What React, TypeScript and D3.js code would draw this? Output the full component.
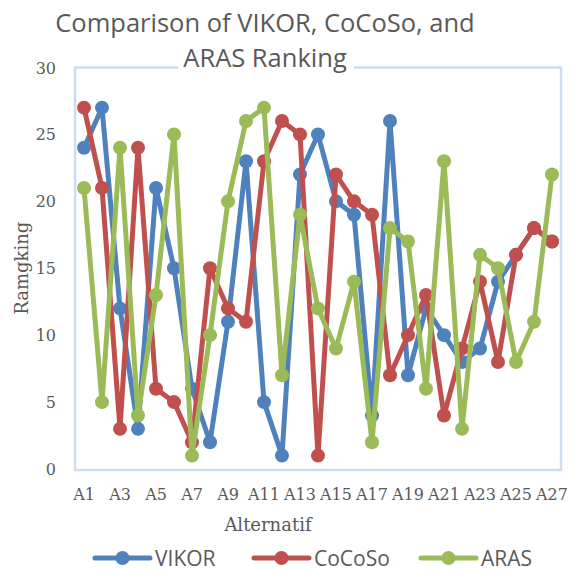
import * as d3 from 'd3'
import React from 'react'

const categories = Array.from({ length: 27 }, (_, i) => `A${i + 1}`)
const vikor = [24, 27, 12, 3, 21, 15, 6, 2, 11, 23, 5, 1, 22, 25, 20, 19, 4, 26, 7, 12, 10, 8, 9, 14, 16, 18, 17]
const cocoso = [27, 21, 3, 24, 6, 5, 2, 15, 12, 11, 23, 26, 25, 1, 22, 20, 19, 7, 10, 13, 4, 9, 14, 8, 16, 18, 17]
const aras = [21, 5, 24, 4, 13, 25, 1, 10, 20, 26, 27, 7, 19, 12, 9, 14, 2, 18, 17, 6, 23, 3, 16, 15, 8, 11, 22]
const yTicks = [0, 5, 10, 15, 20, 25, 30]

const series = [
  { name: 'VIKOR', values: vikor, color: '#4f81bd' },
  { name: 'CoCoSo', values: cocoso, color: '#c0504d' },
  { name: 'ARAS', values: aras, color: '#9bbb59' },
]

const W = 573
const H = 570
const left = 75
const right = 561
const top = 67.5
const bottom = 469

const sans = "'Open Sans', Lato, sans-serif"
const serif = "'DejaVu Serif', serif"

const App = () => {
  const x = d3.scaleBand().domain(categories).range([left, right]).padding(0)
  const y = d3.scaleLinear().domain([0, 30]).range([bottom, top])
  const cx = (c) => x(c) + x.bandwidth() / 2
  const line = d3
    .line<number>()
    .x((_, i) => cx(categories[i]))
    .y((d) => y(d))

  const legendX = [95, 254, 421]

  return (
    <svg width={W} height={H} style={{ position: 'absolute', left: 0, top: 0 }}>
      <rect width={W} height={H} fill="white" />
      <rect x={left} y={top} width={right - left} height={bottom - top + 1} fill="none" stroke="#cfdcee" strokeWidth="2.5" />
      <rect x={178} y={55} width={176} height={18} fill="white" />
      <text x={265} y={32} textAnchor="middle" fontFamily={sans} fontSize="25.5" fill="#595959">
        Comparison of VIKOR, CoCoSo, and
      </text>
      <text x={265} y={67} textAnchor="middle" fontFamily={sans} fontSize="25.5" fill="#595959">
        ARAS Ranking
      </text>
      {yTicks.map((t) => (
        <text key={t} x={56} y={y(t) + 6} textAnchor="end" fontFamily={serif} fontSize="16" fill="#595959">
          {t}
        </text>
      ))}
      {categories.map((c, i) =>
        i % 2 === 0 ? (
          <text key={c} x={cx(c)} y={500} textAnchor="middle" fontFamily={serif} fontSize="16" fill="#595959">
            {c}
          </text>
        ) : null
      )}
      <text x={268} y={531} textAnchor="middle" fontFamily={serif} fontSize="18" fill="#595959">
        Alternatif
      </text>
      <text
        transform={`translate(28 ${(top + bottom) / 2}) rotate(-90)`}
        textAnchor="middle"
        fontFamily={serif}
        fontSize="18"
        fill="#595959"
      >
        Ramgking
      </text>
      {series.map((s) => (
        <g key={s.name}>
          <path d={line(s.values)} fill="none" stroke={s.color} strokeWidth="5" strokeLinejoin="round" />
          {s.values.map((v, i) => (
            <circle key={i} cx={cx(categories[i])} cy={y(v)} r="7" fill={s.color} />
          ))}
        </g>
      ))}
      {series.map((s, i) => (
        <g key={s.name} transform={`translate(${legendX[i]} 558)`}>
          <line x1={0} x2={55} y1={0} y2={0} stroke={s.color} strokeWidth="5" strokeLinecap="round" />
          <circle cx={27.5} cy={0} r="7" fill={s.color} />
          <text x={60} y={7.5} fontFamily={sans} fontSize="21" fill="#595959">
            {s.name}
          </text>
        </g>
      ))}
    </svg>
  )
}

export default App
